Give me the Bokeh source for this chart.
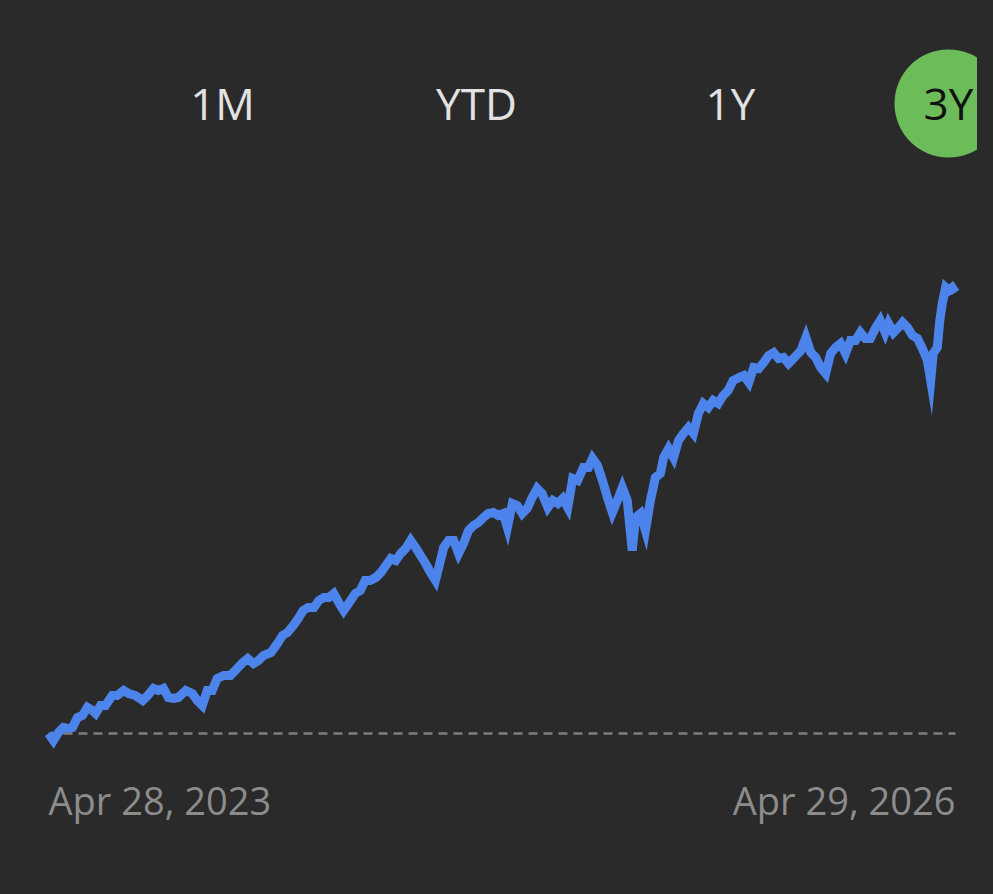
import datetime as dt
from bokeh.plotting import figure
from bokeh.models import Range1d, Label, GlobalInlineStyleSheet
from bokeh.embed import file_html
from bokeh.resources import INLINE

# ---- data ----
start_date = dt.date(2023, 4, 28)
end_date = dt.date(2026, 4, 29)
tabs = ["1M", "YTD", "1Y", "3Y"]
active_tab = "3Y"

# days since start date
days = [0, 6, 12, 18, 24, 29, 35, 41, 47, 53,
        57, 63, 69, 77, 83, 91, 97, 105, 114, 120,
        127, 133, 139, 145, 151, 157, 166, 174, 180, 186,
        192, 198, 204, 212, 220, 226, 235, 241, 248, 254,
        260, 269, 277, 283, 289, 296, 302, 308, 314, 321,
        327, 333, 339, 345, 351, 357, 363, 371, 377, 383,
        389, 396, 402, 408, 414, 420, 426, 432, 438, 444,
        450, 456, 462, 468, 472, 478, 484, 490, 496, 502,
        508, 514, 520, 526, 532, 538, 544, 550, 555, 561,
        567, 573, 579, 585, 591, 597, 604, 610, 616, 622,
        628, 634, 640, 647, 653, 658, 664, 670, 676, 682,
        688, 694, 700, 706, 710, 716, 722, 728, 734, 740,
        744, 750, 756, 762, 768, 774, 780, 786, 792, 798,
        804, 810, 816, 822, 828, 835, 841, 847, 853, 859,
        865, 871, 877, 883, 889, 895, 901, 910, 916, 922,
        928, 934, 940, 946, 952, 958, 964, 970, 976, 982,
        988, 994, 1000, 1006, 1012, 1016, 1022, 1028, 1033, 1039,
        1045, 1051, 1057, 1063, 1067, 1070, 1075, 1078, 1081, 1085,
        1089, 1093, 1097]

# cumulative return, %
returns = [0.0, -1.4, 0.2, 1.2, 1.0, 1.2, 3.2, 3.6, 5.2, 4.6,
           4.0, 5.6, 5.6, 7.6, 7.6, 8.6, 8.0, 7.6, 6.6, 7.6,
           9.0, 8.6, 9.0, 7.2, 7.0, 7.2, 8.6, 8.0, 6.6, 5.6,
           8.6, 8.6, 11.0, 11.6, 11.6, 12.6, 14.2, 15.0, 14.0, 14.6,
           15.6, 16.2, 18.0, 19.6, 20.2, 21.6, 23.0, 24.6, 25.2, 25.2,
           26.6, 27.2, 27.2, 28.0, 26.2, 24.6, 26.0, 28.0, 28.6, 30.6,
           30.6, 31.2, 32.2, 33.6, 35.0, 34.6, 36.0, 37.0, 38.6, 37.2,
           35.6, 34.0, 32.2, 30.6, 33.2, 37.2, 38.6, 38.6, 36.0, 38.0,
           40.6, 41.6, 42.2, 43.2, 44.0, 44.2, 43.6, 44.0, 41.2, 46.0,
           45.6, 44.0, 45.0, 47.2, 49.0, 48.0, 45.2, 46.6, 46.0, 47.0,
           45.2, 51.0, 50.6, 53.2, 53.2, 55.0, 53.6, 50.6, 47.2, 44.2,
           46.6, 49.2, 46.6, 36.6, 43.2, 44.0, 40.6, 46.6, 51.2, 52.0,
           55.2, 57.0, 55.2, 58.6, 60.0, 61.2, 60.0, 64.0, 66.0, 65.2,
           66.6, 66.0, 67.6, 68.6, 70.6, 71.2, 71.6, 70.2, 73.2, 73.0,
           74.2, 75.6, 76.2, 75.0, 75.2, 74.0, 75.0, 76.6, 79.2, 76.2,
           75.2, 73.2, 72.0, 76.0, 77.2, 78.0, 76.0, 78.6, 78.6, 80.2,
           79.0, 79.0, 81.0, 82.6, 80.2, 82.0, 80.2, 81.2, 82.2, 81.2,
           79.6, 79.0, 77.0, 74.6, 70.6, 76.0, 77.2, 82.6, 86.0, 89.2,
           88.6, 89.2, 88.2]

assert len(days) == len(returns)

# ---- layout / style ----
W, H = 977, 878
BG = "#2a2a2a"
LINE = "#4c84ec"
GREEN = "#6cbd5a"
total_days = (end_date - start_date).days
px_per_day = 907 / total_days
left_pad, right_pad = 48, 22
px_per_unit = 5.0
base_from_bottom = 145

x_range = Range1d(-left_pad / px_per_day, total_days + right_pad / px_per_day)
y_range = Range1d(-base_from_bottom / px_per_unit, (H - base_from_bottom) / px_per_unit)

p = figure(width=W, height=H, x_range=x_range, y_range=y_range,
           output_backend="svg", toolbar_location=None, min_border=0,
           x_axis_location=None, y_axis_location=None,
           background_fill_color=BG, border_fill_color=BG,
           outline_line_color=None)
p.grid.visible = False
p.stylesheets = [GlobalInlineStyleSheet(css=f"body {{ background: {BG}; }}")]

# baseline
p.line([0, total_days], [0, 0], line_color="#7d7d7d", line_width=2.5,
       line_dash="9 6")

# price line
p.line(days, returns, line_color=LINE, line_width=9, line_join="miter")

# tabs
tab_x = [222, 476, 730, 948]
tab_base = 776
for name, tx in zip(tabs, tab_x):
    if name == active_tab:
        cx = x_range.start + tx / px_per_day
        cy = y_range.start + 775 / px_per_unit
        p.circle(x=[cx], y=[cy], radius=54, radius_units="screen",
                 fill_color=GREEN, line_color=None)
    p.add_layout(Label(x=tx, y=tab_base, x_units="screen", y_units="screen",
                       text=name, text_align="center", text_baseline="alphabetic",
                       text_font="Open Sans", text_font_size="44px",
                       text_color="#111111" if name == active_tab else "#e2e2e2"))

# date labels
for d, align in [(start_date, "left"), (end_date, "right")]:
    p.add_layout(Label(x=(d - start_date).days, x_units="data", y=79, y_units="screen",
                       text=d.strftime("%b %d, %Y"), text_align=align,
                       text_baseline="alphabetic", text_font="Open Sans",
                       text_font_size="38px", text_color="#8c8c8c"))

open("out.html", "w").write(file_html(p, INLINE))
